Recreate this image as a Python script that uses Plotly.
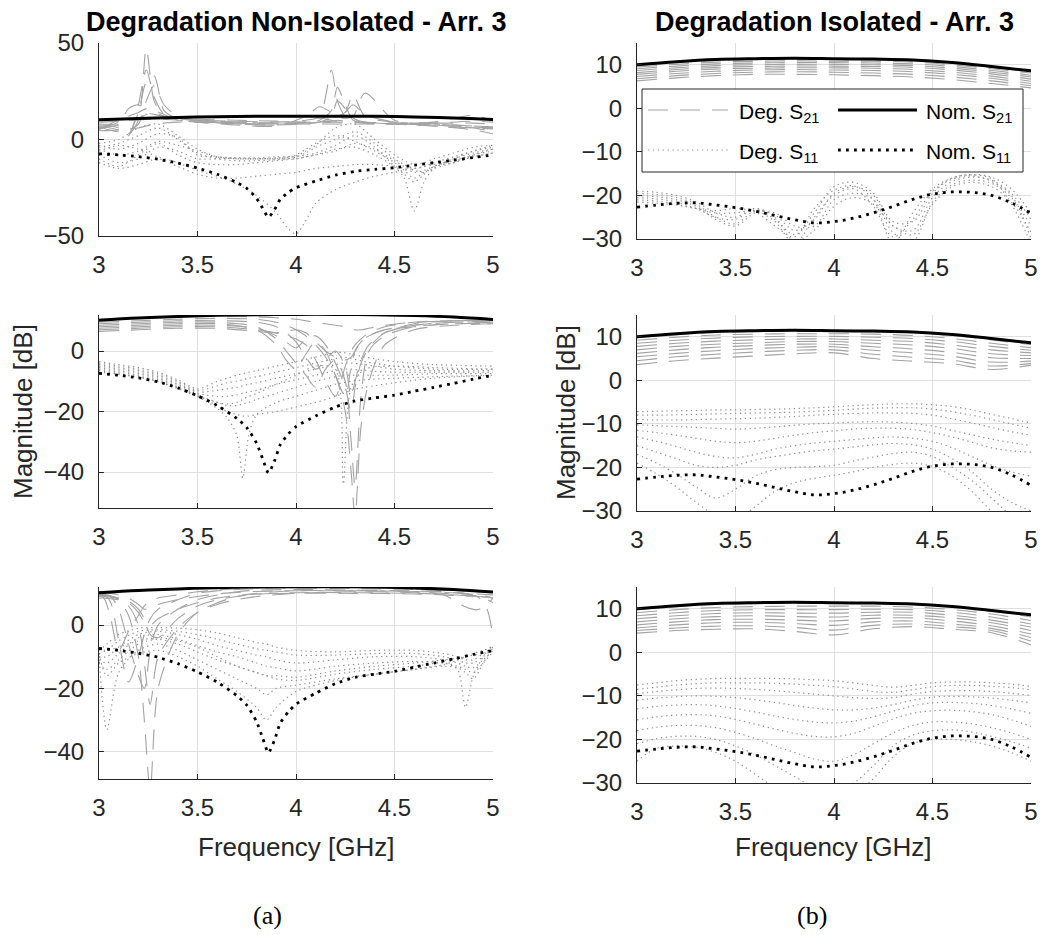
import plotly.graph_objects as go

# ---------------- frequency grids (GHz) ----------------
F_ISO_S21 = [3.0, 3.2, 3.4, 3.6, 3.8, 4.0, 4.2, 4.4, 4.6, 4.8, 5.0]
F_ISO_S11 = [3.0, 3.1, 3.2, 3.3, 3.4, 3.5, 3.6, 3.7, 3.8, 3.9, 4.0,
             4.1, 4.2, 4.3, 4.4, 4.5, 4.6, 4.7, 4.8, 4.9, 5.0]
F_NOM_NI_S21 = [3.0, 3.2, 3.4, 3.6, 3.8, 4.0, 4.2, 4.4, 4.6, 4.8, 5.0]
F_NOM_NI_S11 = [3.0, 3.1, 3.2, 3.3, 3.4, 3.5, 3.6, 3.7, 3.75, 3.8, 3.83, 3.86,
                3.89, 3.92, 3.96, 4.0, 4.1, 4.2, 4.3, 4.4, 4.5, 4.6, 4.7, 4.8, 4.9, 5.0]
F_NI1_S21 = [3.0, 3.1, 3.15, 3.2, 3.24, 3.28, 3.33, 3.4, 3.5, 3.7, 3.9, 4.05,
             4.12, 4.18, 4.21, 4.25, 4.29, 4.35, 4.5, 4.7, 4.9, 5.0]
F_NI1_S11 = [3.0, 3.1, 3.2, 3.3, 3.4, 3.5, 3.6, 3.7, 3.8, 3.9, 3.95, 4.0, 4.05,
             4.1, 4.2, 4.3, 4.4, 4.5, 4.55, 4.6, 4.65, 4.7, 4.8, 4.9, 5.0]
F_NI2_S21 = [3.0, 3.2, 3.4, 3.6, 3.8, 3.9, 3.95, 4.0, 4.05, 4.1, 4.15, 4.2,
             4.25, 4.28, 4.3, 4.33, 4.37, 4.45, 4.6, 4.8, 5.0]
F_NI2_S11 = [3.0, 3.1, 3.2, 3.3, 3.4, 3.5, 3.6, 3.65, 3.7, 3.73, 3.76, 3.8,
             3.9, 4.0, 4.1, 4.2, 4.24, 4.28, 4.35, 4.5, 4.7, 5.0]
F_NI3_S21 = [3.0, 3.03, 3.06, 3.1, 3.15, 3.2, 3.23, 3.26, 3.3, 3.4, 3.5, 3.6,
             3.7, 3.8, 4.0, 4.3, 4.6, 4.75, 4.85, 4.92, 4.97, 5.0]
F_NI3_S11 = [3.0, 3.04, 3.1, 3.2, 3.3, 3.4, 3.5, 3.6, 3.7, 3.8, 3.85, 3.9, 4.0,
             4.2, 4.4, 4.6, 4.75, 4.82, 4.86, 4.9, 4.95, 5.0]

# ---------------- nominal responses (dB) ----------------
NOM_ISO_S21 = [10.0, 10.7, 11.2, 11.4, 11.5, 11.4, 11.3, 11.1, 10.5, 9.6, 8.6]
NOM_ISO_S11 = [-22.7, -22.2, -21.8, -21.7, -22.2, -22.8, -23.6, -24.6, -25.6, -26.3, -26.0,
               -25.2, -24.0, -22.5, -20.9, -19.7, -19.2, -19.3, -20.0, -21.7, -24.1]
NOM_NI_S21 = [10.2, 10.9, 11.4, 11.8, 12.0, 12.1, 12.1, 12.0, 11.7, 11.2, 10.4]
NOM_NI_S11 = [-7.4, -8.0, -8.9, -10.2, -12.2, -14.8, -18.0, -22.3, -25.3, -30.5, -35.5, -40.3,
              -36.5, -31.0, -27.5, -25.0, -21.5, -18.5, -16.5, -15.5, -14.6, -13.3, -12.0,
              -10.7, -9.3, -8.0]

# ---------------- degraded responses, isolated array (dB) ----------------
ISO1_S21 = [
    [9.9, 10.5, 11.0, 11.2, 11.3, 11.2, 11.1, 10.9, 10.3, 9.4, 8.4],
    [9.5, 10.1, 10.6, 10.8, 10.9, 10.8, 10.8, 10.6, 10.0, 9.1, 8.1],
    [9.1, 9.7, 10.2, 10.4, 10.5, 10.5, 10.4, 10.2, 9.6, 8.7, 7.6],
    [8.7, 9.3, 9.8, 10.0, 10.1, 10.1, 10.0, 9.8, 9.2, 8.3, 7.2],
    [8.2, 8.9, 9.4, 9.6, 9.7, 9.7, 9.6, 9.4, 8.8, 7.9, 6.7],
    [7.8, 8.5, 9.0, 9.2, 9.3, 9.3, 9.2, 8.9, 8.3, 7.4, 6.2],
    [7.3, 8.0, 8.5, 8.8, 8.9, 8.8, 8.7, 8.4, 7.8, 6.9, 5.7],
    [6.8, 7.5, 8.0, 8.3, 8.4, 8.3, 8.1, 7.8, 7.2, 6.3, 5.2],
    [6.3, 7.0, 7.5, 7.8, 7.8, 7.7, 7.5, 7.2, 6.6, 5.7, 4.7],
]
ISO1_S11 = [
    [-19.0, -19.3, -20.0, -21.5, -24.0, -25.0, -23.0, -25.5, -29.0, -24.0, -18.0,
     -17.0, -19.5, -26.0, -26.0, -19.5, -16.0, -15.2, -15.8, -18.5, -24.0],
    [-19.5, -19.8, -20.5, -22.0, -25.0, -26.5, -23.5, -24.5, -28.0, -25.5, -19.5,
     -18.0, -20.0, -27.0, -28.0, -20.5, -16.8, -15.8, -16.5, -19.5, -25.5],
    [-20.0, -20.3, -21.0, -22.5, -25.5, -27.0, -24.0, -24.0, -27.0, -27.0, -21.0,
     -19.5, -21.0, -28.5, -30.5, -21.5, -17.5, -16.5, -17.2, -20.5, -27.0],
    [-20.5, -20.8, -21.5, -23.0, -25.0, -25.5, -23.0, -25.0, -30.5, -28.0, -22.5,
     -20.5, -22.0, -27.0, -29.0, -22.0, -18.0, -17.0, -18.0, -21.5, -28.5],
    [-21.0, -21.3, -22.0, -23.0, -24.0, -24.0, -23.5, -26.0, -31.0, -25.0, -20.0,
     -18.5, -22.5, -29.5, -25.5, -19.0, -16.3, -15.5, -16.8, -20.0, -30.0],
    [-21.5, -21.8, -22.2, -23.0, -23.5, -23.0, -23.8, -27.0, -29.5, -23.0, -18.8,
     -17.8, -21.0, -31.0, -24.0, -18.5, -16.0, -15.3, -16.2, -22.0, -31.0],
]
ISO2_S21 = [
    [9.8, 10.5, 11.0, 11.2, 11.2, 11.2, 11.1, 10.9, 10.3, 9.3, 8.2],
    [9.2, 9.9, 10.4, 10.6, 10.7, 10.7, 10.6, 10.3, 9.6, 8.5, 7.5],
    [8.5, 9.2, 9.7, 10.0, 10.1, 10.1, 9.9, 9.6, 8.9, 7.8, 6.9],
    [7.8, 8.5, 9.0, 9.3, 9.5, 9.5, 9.2, 8.9, 8.1, 7.0, 6.3],
    [7.0, 7.8, 8.3, 8.6, 8.9, 8.9, 8.5, 8.1, 7.3, 6.1, 5.7],
    [6.2, 7.0, 7.6, 8.0, 8.3, 8.3, 7.7, 7.2, 6.4, 5.2, 5.0],
    [5.4, 6.2, 6.8, 7.3, 7.6, 7.7, 6.9, 6.3, 5.5, 4.2, 4.4],
    [4.5, 5.4, 6.0, 6.5, 6.9, 7.0, 6.0, 5.3, 4.6, 3.3, 3.9],
    [3.6, 4.5, 5.1, 5.6, 6.1, 6.3, 5.0, 4.4, 3.8, 2.5, 3.5],
]
ISO2_S11 = [
    [-7.2, -7.1, -7.0, -6.9, -6.8, -6.8, -6.7, -6.6, -6.5, -6.3, -6.1,
     -5.8, -5.6, -5.4, -5.4, -5.6, -6.0, -6.8, -7.8, -8.8, -9.8],
    [-8.0, -8.0, -7.9, -7.8, -7.7, -7.6, -7.5, -7.4, -7.3, -7.1, -6.9,
     -6.6, -6.4, -6.3, -6.3, -6.6, -7.2, -8.0, -9.0, -10.0, -11.0],
    [-9.0, -9.1, -9.1, -9.0, -8.9, -8.8, -8.7, -8.5, -8.3, -8.0, -7.8,
     -7.6, -7.5, -7.5, -7.6, -8.0, -8.8, -9.8, -10.8, -11.8, -12.6],
    [-10.2, -10.4, -10.6, -10.8, -11.0, -11.2, -11.0, -10.7, -10.3, -10.0, -9.8,
     -9.6, -9.5, -9.6, -9.9, -10.5, -11.5, -12.5, -13.5, -14.3, -15.0],
    [-11.5, -12.0, -12.6, -13.3, -14.0, -14.3, -14.0, -13.3, -12.6, -12.0, -11.6,
     -11.2, -11.0, -11.0, -11.3, -12.0, -13.0, -14.2, -15.5, -16.2, -16.5],
    [-13.0, -14.0, -15.2, -16.5, -17.5, -17.8, -17.0, -15.8, -15.0, -14.4, -14.0,
     -13.6, -13.2, -13.0, -13.3, -14.0, -15.5, -17.5, -19.5, -21.0, -22.0],
    [-15.0, -16.5, -18.0, -19.5, -20.0, -19.5, -18.3, -17.5, -16.8, -16.2, -15.8,
     -15.3, -14.8, -14.5, -14.8, -15.8, -18.0, -21.0, -25.0, -28.0, -30.0],
    [-17.0, -19.0, -21.5, -24.5, -27.0, -25.0, -22.0, -20.5, -20.0, -19.8, -19.5,
     -18.5, -17.6, -16.8, -16.5, -17.5, -20.0, -23.0, -27.0, -31.0, -33.0],
    [-19.0, -21.5, -24.5, -28.0, -31.0, -32.0, -29.0, -25.5, -23.5, -22.5, -21.8,
     -21.0, -20.0, -19.3, -19.0, -19.8, -22.0, -25.5, -30.0, -33.0, -35.0],
]
ISO3_S21 = [
    [9.8, 10.5, 11.0, 11.2, 11.3, 11.3, 11.2, 11.0, 10.5, 9.5, 8.1],
    [9.1, 9.8, 10.3, 10.5, 10.6, 10.6, 10.6, 10.4, 9.8, 8.8, 7.3],
    [8.4, 9.1, 9.6, 9.8, 9.8, 9.8, 9.9, 9.8, 9.2, 8.1, 6.5],
    [7.7, 8.4, 8.9, 9.1, 9.0, 9.0, 9.2, 9.2, 8.5, 7.4, 5.8],
    [7.0, 7.7, 8.2, 8.4, 8.2, 8.1, 8.5, 8.5, 7.9, 6.8, 5.0],
    [6.3, 7.0, 7.5, 7.6, 7.4, 7.2, 7.8, 7.9, 7.2, 6.1, 4.2],
    [5.6, 6.3, 6.8, 6.9, 6.6, 6.2, 7.0, 7.2, 6.5, 5.5, 3.4],
    [5.0, 5.6, 6.0, 6.1, 5.7, 5.1, 6.2, 6.5, 5.9, 5.0, 2.6],
    [4.4, 5.0, 5.3, 5.4, 4.8, 4.0, 5.4, 5.9, 5.3, 4.5, 1.7],
]
ISO3_S11 = [
    [-7.5, -7.0, -6.5, -6.2, -6.0, -6.0, -6.0, -6.0, -6.1, -6.3, -6.5,
     -7.0, -7.6, -8.0, -7.6, -7.0, -6.8, -6.8, -7.0, -7.3, -7.8],
    [-8.5, -8.0, -7.5, -7.2, -7.0, -7.0, -7.0, -7.1, -7.3, -7.6, -7.9,
     -8.4, -9.0, -9.2, -8.6, -7.9, -7.6, -7.6, -7.8, -8.1, -8.6],
    [-9.5, -9.0, -8.6, -8.3, -8.2, -8.3, -8.5, -8.8, -9.2, -9.6, -10.0,
     -10.4, -10.6, -10.4, -9.6, -9.0, -8.8, -8.8, -9.0, -9.4, -9.9],
    [-11.0, -10.5, -10.2, -10.0, -10.1, -10.4, -10.9, -11.5, -12.2, -12.8, -13.2,
     -13.2, -12.8, -12.0, -11.0, -10.3, -10.1, -10.2, -10.5, -11.0, -11.6],
    [-13.0, -12.4, -12.1, -12.0, -12.3, -12.9, -13.7, -14.6, -15.4, -16.0, -16.2,
     -15.8, -14.8, -13.5, -12.3, -11.6, -11.5, -11.7, -12.2, -13.0, -14.0],
    [-15.5, -14.8, -14.4, -14.3, -14.6, -15.4, -16.5, -17.6, -18.6, -19.3, -19.4,
     -18.6, -17.0, -15.3, -14.0, -13.4, -13.3, -13.6, -14.3, -15.5, -17.0],
    [-18.0, -17.2, -16.8, -16.8, -17.3, -18.4, -19.8, -21.5, -23.0, -24.5, -25.0,
     -23.5, -21.0, -18.5, -16.8, -16.0, -16.0, -16.4, -17.3, -18.5, -20.0],
    [-21.0, -19.8, -19.3, -19.3, -20.0, -21.5, -23.5, -26.0, -28.5, -31.0, -32.0,
     -30.0, -26.0, -21.5, -19.0, -18.0, -17.8, -18.3, -19.3, -20.5, -22.0],
    [-25.0, -22.0, -21.5, -21.8, -23.0, -25.0, -28.0, -31.0, -33.0, -34.0, -36.0,
     -33.0, -29.0, -24.0, -21.0, -20.0, -20.0, -20.5, -21.5, -23.0, -25.0],
]

# ---------------- degraded responses, non-isolated array (dB) ----------------
NI1_S21 = [
    [8, 7, 3, 10, 47, 20, 12, 11, 10.5, 10, 9.5, 9, 9, 9.5, 10, 9.5, 9, 8.5, 8, 7, 6, 5.5],
    [7.5, 6, 2, 18, 36, 22, 13, 11, 10, 9.5, 9, 10, 12, 36, 20, 12, 10, 9, 8.5, 8, 7, 6.5],
    [7, 5, 3, 14, 30, 33, 15, 11, 10, 9, 8.5, 9, 10, 15, 27, 18, 10, 9, 8, 7.5, 6, 4],
    [6.5, 4, 5, 8, 20, 28, 18, 12, 10, 8.5, 8, 8.5, 9, 12, 20, 16, 11, 9, 8, 7, 5, 3],
    [6, 8, 16, 18, 14, 13, 12, 11, 9.5, 8, 7.5, 8, 9, 10, 12, 14, 23, 12, 9, 7.5, 6.5, 6],
    [5.5, 9, 12, 14, 16, 15, 13, 10, 9, 7.5, 7, 12, 17, 14, 12, 11, 12, 24, 10, 8, 7, 6.5],
    [5, 10, 10, 11, 13, 14, 12, 10.5, 9, 8, 7.5, 9, 11, 10, 9.5, 14, 18, 13, 9, 8.5, 8.5, 8],
    [9, 9.5, 10, 10, 10.5, 10.5, 10.5, 10, 9.5, 9, 8.5, 8.5, 8.5, 9, 9, 9, 9, 8.5, 8.5, 9, 12.5, 9.5],
    [4.5, 5, 5.5, 6, 7, 8, 8.5, 9, 9, 8.5, 8, 8, 8, 8, 8, 8, 8, 8, 8, 8.5, 9.5, 9],
]
NI1_S11 = [
    [-3, -5, -2, 3, 1, -8, -9, -9.5, -10, -10, -10, -9, -7, -4, 0, 4, -2, -10, -13, -15, -14, -12, -9, -6, -4],
    [-5, -8, -6, -1, -3, -6, -9, -10, -10, -9.5, -9, -8, -5, -2, 2, -1, -6, -12, -16, -20, -17, -14, -10, -7, -5],
    [-8, -12, -10, -4, -6, -10, -10, -9.5, -9.5, -9, -9, -9, -8, -7, -3, 2, -4, -14, -20, -37, -22, -15, -10, -6, -3],
    [-10, -14, -8, -2, -8, -12, -13, -13, -12, -11, -10.5, -10, -9, -8, -5, -4, -8, -14, -18, -22, -18, -14, -11, -8, -6],
    [-6, -3, -5, -9, -12, -16, -19, -23, -29, -38, -45, -49, -42, -33, -26, -22, -19, -17, -16, -15, -14, -13, -11, -9, -7],
    [-12, -15, -13, -10, -14, -18, -20, -20, -19, -18, -17.5, -17, -16, -15, -14, -13, -13, -14, -15, -17, -16, -14, -12, -9, -7],
    [-4, -2, 2, 6, 0, -7, -10, -11, -11, -10.5, -10, -10, -9, -8, -6, -2, -5, -11, -14, -16, -17, -15, -12, -8, -5],
    [-2, 0, 6, 8, 2, -5, -9, -10, -10, -10, -9.5, -8.5, -6, -3, 6, 8, 0, -8, -11, -13, -12, -10, -7, -4, -3],
]
NI2_S21 = [
    [10.5, 11, 11.3, 11.5, 11.3, 11, 10.8, 10.5, 10, 9.5, 9, 8.5, 8, 7.5, 7, 7, 7.5, 8.5, 9.5, 10, 10],
    [9.5, 10, 10.5, 10.8, 10.5, 9.5, 8.5, 7, 5, 2, -2, -8, -20, -40, -55, -25, -10, 2, 7, 8.5, 9],
    [9, 9.5, 10, 10, 9.5, 8, 6, 3, -2, -6, -3, 0, -5, -15, -10, -3, 2, 6, 8.5, 9.5, 9.5],
    [8.5, 9, 9.5, 9.5, 8, 4, 0, -4, -8, -12, -6, -3, -10, -30, -45, -15, 0, 5, 8, 9, 9],
    [8, 8.5, 9, 9, 7, 2, -3, -6, -1, 3, 0, -8, -15, -5, 0, 3, 5, 7, 8.5, 9.5, 9.5],
    [7.5, 8, 8.5, 8.5, 7.5, 5, 3, 1, 4, 5, 2, -4, -12, -20, -12, -4, 1, 6, 9, 10, 10],
    [7, 7.5, 8, 8, 7, 6, 5, 4, 2, -3, -10, -15, -5, 0, 2, 4, 6, 8, 9.5, 10, 9.5],
    [6.5, 7, 7.5, 7.5, 6.5, 6, 6.5, 7, 6, 3, 0, -2, -3, -2, 0, 3, 5, 7, 8, 9, 9],
]
NI2_S11 = [
    [-3.5, -4.5, -5.5, -7, -9.5, -12.5, -10, -9, -8, -7.5, -7, -6.5, -5, -3.5, -2, -0.5, -0.5, -1, -2, -3.5, -4.5, -5],
    [-4, -5, -6, -7.5, -10, -13, -11.5, -10.5, -10, -9.5, -9, -8.5, -7, -5.5, -4, -2.5, -2, -2.5, -3.5, -5, -6, -6],
    [-4.5, -5.5, -6.5, -8, -10.5, -13.5, -13, -12.5, -12, -11.5, -11, -10.5, -9, -7.5, -6, -4.5, -4, -4, -4.5, -6, -6.5, -6.5],
    [-5, -6, -7, -8.5, -11, -14, -15, -15, -14.5, -14, -13.5, -13, -11, -9.5, -8, -6.5, -6, -6, -6.5, -7, -7, -7],
    [-5.5, -6.5, -7.5, -9, -11.5, -14.5, -17, -18, -18, -17.5, -17, -16, -14, -12, -10, -8.5, -8, -8, -8, -8, -7.5, -7.5],
    [-6, -7, -8, -9.5, -12, -15, -19, -22, -28, -42, -28, -21, -17, -15, -13, -11, -10.5, -10, -9.5, -9, -8.5, -8],
    [-6.5, -7.5, -8.5, -10, -12.5, -15, -18, -20, -21, -21.5, -21.5, -21, -20, -18.5, -17, -15, -14, -13, -12, -10.5, -9, -8],
    [-7, -7.7, -8.7, -10.1, -12.2, -14.8, -17, -17.5, -17, -16, -15, -14, -11, -8, -5, -6, -44, -12, -6, -5, -5.5, -6],
]
NI3_S21 = [
    [10.2, 8, 2, -8, -2, 3, 6, 7.5, 8.5, 9.5, 10.5, 11, 11.5, 11.7, 11.8, 11.8, 11.5, 11.2, 10.8, 10.5, 10.3, 10.2],
    [10, 9.5, 7, -5, -18, -10, -3, 2, 5, 8, 10, 10.8, 11.2, 11.5, 11.6, 11.5, 11.2, 10.8, 10, 9, 8, 7],
    [9.8, 9.7, 9, 5, -6, -16, -20, -8, 0, 5, 8, 9.5, 10.5, 11, 11.2, 11, 10.8, 10.5, 10, 9.5, 9, 8.5],
    [9.5, 9.4, 9.2, 8, 3, -10, -30, -52, -20, -3, 4, 7, 9, 10, 10.8, 10.8, 10.5, 10, 9.5, 9, 5, -4],
    [9.3, 9.2, 9, 8.5, 6, 0, -12, -25, -10, -1, 4, 6.5, 8, 9, 10, 10.5, 10.2, 9.5, 6, 4.8, 6.5, 8.5],
    [9, 9, 8.8, 8.5, 7.5, 5, 2, -3, -4, 2, 6, 8, 9, 9.7, 10.2, 10.2, 10, 9.7, 9.3, 9, 8.8, 8.5],
    [8.5, 8.5, 8.3, 8, 7, 4, 1, 0, 2, 5, 7, 8.5, 9.3, 9.8, 10, 10, 9.8, 9.5, 9.2, 9, 8.8, 8.8],
    [10.5, 10.3, 10, 9.5, 8.5, 6.5, 5, 5.5, 6.5, 8, 9, 9.8, 10.3, 10.6, 10.8, 10.8, 10.6, 10.3, 10, 9.8, 9.6, 9.5],
]
NI3_S11 = [
    [-8, -6, -3, -1, -0.8, -1, -1.5, -2.5, -4, -5.5, -6, -7, -8, -8.5, -8, -8, -9, -10, -11, -11, -9, -7],
    [-9, -8, -5, -2, -1.5, -2, -3, -4.5, -6, -7.5, -8, -8.5, -9.5, -9.5, -9, -9, -10, -11, -12, -12, -10, -7.5],
    [-10, -10, -7, -3, -2, -3, -4.5, -6.5, -8, -9.5, -10, -11, -12, -11, -10, -10, -11, -12, -13, -13.5, -11, -8],
    [-11, -12, -9, -4, -3, -4.5, -6.5, -8.5, -10, -12, -13, -13.5, -14.5, -13, -12, -11.5, -12, -13, -14, -15, -12, -8.5],
    [-12, -14, -11, -6, -4.5, -6, -8.5, -11, -13, -15, -16, -17, -17.5, -15.5, -14, -13, -12, -14, -26, -16, -10, -6],
    [-10, -33, -15, -8, -6, -8, -11, -14, -17, -20, -22, -20, -19, -17, -15.5, -14, -13, -13.5, -15, -17, -12, -7],
    [-9, -16, -12, -9, -8, -10, -13, -17, -21, -26, -30, -26, -21, -17.5, -15.5, -14, -12.5, -11, -10, -9, -8, -7],
    [-7.5, -8, -7, -5, -4, -5, -7, -10, -13, -15, -16, -16, -16.5, -14.5, -13, -12, -11, -10.5, -10, -9.5, -9, -8.5],
]

# ---------------- axis ticks ----------------
X_TICKS = [3, 3.5, 4, 4.5, 5]
X_TICK_TEXT = ["3", "3.5", "4", "4.5", "5"]
Y_TICKS_NI1 = [-50, 0, 50]
Y_TICKS_NI = [-40, -20, 0]
Y_TICKS_ISO = [-30, -20, -10, 0, 10]

TITLES = ["Degradation Non-Isolated - Arr. 3", "Degradation Isolated - Arr. 3"]
Y_LABEL = "Magnitude [dB]"
X_LABEL = "Frequency [GHz]"
SUB_LABELS = ["(a)", "(b)"]
LEGEND_TEXT = ["Deg. S<sub>21</sub>", "Nom. S<sub>21</sub>", "Deg. S<sub>11</sub>", "Nom. S<sub>11</sub>"]

# ---------------- styling ----------------
W, H = 1041, 935
FONT = "Liberation Sans, Arial, Helvetica, sans-serif"
AX_COLOR = "#262626"
GRID_COLOR = "#e0e0e0"
GREY = "#a3a3a3"
GREY_DOT = "#8f8f8f"
DASH_GREY = "20px,12px"
DOT_GREY = "1.3px,3.6px"
DOT_BLACK = "2.8px,5.2px"


def px_x(v):
    return v / W


def px_y(v):
    return 1 - v / H


# panel layout: (x-domain px, y-domain px, y range, y ticks)
PANELS = [
    ((99, 493), (43, 236), [-50, 50], Y_TICKS_NI1),
    ((637, 1031), (43, 239), [-30, 15], Y_TICKS_ISO),
    ((99, 493), (315, 508), [-51.9, 11.9], Y_TICKS_NI),
    ((637, 1031), (315, 511), [-30, 15], Y_TICKS_ISO),
    ((99, 493), (587, 779), [-48.6, 12], Y_TICKS_NI),
    ((637, 1031), (587, 783), [-30, 15], Y_TICKS_ISO),
]

fig = go.Figure()


def axis_names(i):
    s = "" if i == 1 else str(i)
    return "x" + s, "y" + s, "xaxis" + s, "yaxis" + s


def add_lines(i, freqs, curves, color, width, dash, smoothing=1.0):
    xa, ya, _, _ = axis_names(i)
    for ys in curves:
        fig.add_trace(go.Scatter(
            x=freqs, y=ys, mode="lines", xaxis=xa, yaxis=ya,
            line=dict(color=color, width=width, dash=dash, shape="spline", smoothing=smoothing),
            showlegend=False, hoverinfo="skip"))


# non-isolated column
for i, f21, s21, f11, s11 in [
    (1, F_NI1_S21, NI1_S21, F_NI1_S11, NI1_S11),
    (3, F_NI2_S21, NI2_S21, F_NI2_S11, NI2_S11),
    (5, F_NI3_S21, NI3_S21, F_NI3_S11, NI3_S11),
]:
    add_lines(i, f11, s11, GREY_DOT, 1.2, DOT_GREY, 0.8)
    add_lines(i, f21, s21, GREY, 1.1, DASH_GREY, 0.8)
    add_lines(i, F_NOM_NI_S21, [NOM_NI_S21], "black", 3, "solid")
    add_lines(i, F_NOM_NI_S11, [NOM_NI_S11], "black", 2.8, DOT_BLACK, 0.6)

# isolated column
for i, s21, s11 in [(2, ISO1_S21, ISO1_S11), (4, ISO2_S21, ISO2_S11), (6, ISO3_S21, ISO3_S11)]:
    add_lines(i, F_ISO_S11, s11, GREY_DOT, 1.2, DOT_GREY)
    add_lines(i, F_ISO_S21, s21, GREY, 1.1, DASH_GREY)
    add_lines(i, F_ISO_S21, [NOM_ISO_S21], "black", 3, "solid")
    add_lines(i, F_ISO_S11, [NOM_ISO_S11], "black", 2.8, DOT_BLACK)

layout = dict(
    width=W, height=H, margin=dict(l=0, r=0, t=0, b=0, autoexpand=False),
    paper_bgcolor="white", plot_bgcolor="white",
    font=dict(family=FONT, color=AX_COLOR, size=24),
    showlegend=False,
)
for i, (xd, yd, yr, yt) in enumerate(PANELS, start=1):
    xa, ya, xk, yk = axis_names(i)
    layout[xk] = dict(
        domain=[px_x(xd[0]), px_x(xd[1])], range=[3, 5], anchor=ya, automargin=False,
        tickvals=X_TICKS, ticktext=X_TICK_TEXT, showgrid=True, gridcolor=GRID_COLOR,
        gridwidth=1, zeroline=False, showline=True, linecolor=AX_COLOR, linewidth=1.2,
        ticks="inside", ticklen=5, tickcolor=AX_COLOR, tickfont=dict(size=24, color=AX_COLOR),
        ticklabelstandoff=7,
    )
    layout[yk] = dict(
        domain=[px_y(yd[1]), px_y(yd[0])], range=yr, anchor=xa, automargin=False,
        tickvals=yt, showgrid=True, gridcolor=GRID_COLOR, gridwidth=1,
        zeroline=False, showline=True, linecolor=AX_COLOR, linewidth=1.2,
        ticks="inside", ticklen=5, tickcolor=AX_COLOR, tickfont=dict(size=24, color=AX_COLOR),
        ticklabelstandoff=9,
    )
fig.update_layout(**layout)

ann = []


def centered(cx, cy, text, size, color=AX_COLOR, family=FONT, angle=0):
    return dict(x=px_x(cx), y=px_y(cy), xref="paper", yref="paper", text=text,
                xanchor="center", yanchor="middle", textangle=angle, showarrow=False,
                font=dict(size=size, color=color, family=family))


# column titles
ann.append(centered(296, 22, "<b>" + TITLES[0] + "</b>", 27, "black"))
ann.append(centered(834, 22, "<b>" + TITLES[1] + "</b>", 27, "black"))
# axis labels
ann.append(centered(23, 412, Y_LABEL, 26, angle=-90))
ann.append(centered(566, 413, Y_LABEL, 26, angle=-90))
ann.append(centered(296, 847, X_LABEL, 26))
ann.append(centered(833, 847, X_LABEL, 26))
# sub-figure labels
ann.append(centered(267, 915, SUB_LABELS[0], 26, "black", "Liberation Serif, DejaVu Serif, serif"))
ann.append(centered(812, 915, SUB_LABELS[1], 26, "black", "Liberation Serif, DejaVu Serif, serif"))

# legend box inside the top-right panel
shapes = [dict(type="rect", xref="paper", yref="paper", layer="above",
               x0=px_x(642), x1=px_x(1023), y0=px_y(172), y1=px_y(89),
               fillcolor="white", line=dict(color=AX_COLOR, width=1))]
legend_items = [
    (648, 728, 110, GREY, 1.1, DASH_GREY, LEGEND_TEXT[0], 737),
    (838, 917, 110, "black", 3, "solid", LEGEND_TEXT[1], 924),
    (648, 728, 150, GREY_DOT, 1.2, DOT_GREY, LEGEND_TEXT[2], 737),
    (838, 917, 150, "black", 2.8, DOT_BLACK, LEGEND_TEXT[3], 924),
]
for x0, x1, yy, col, wd, ds, txt, tx in legend_items:
    shapes.append(dict(type="line", xref="paper", yref="paper", layer="above",
                       x0=px_x(x0), x1=px_x(x1), y0=px_y(yy), y1=px_y(yy),
                       line=dict(color=col, width=wd, dash=ds)))
    ann.append(dict(x=px_x(tx), y=px_y(yy + 3), xref="paper", yref="paper", text=txt,
                    xanchor="left", yanchor="middle", showarrow=False,
                    font=dict(size=21, color="black")))

fig.update_layout(annotations=ann, shapes=shapes)
fig.write_html("out.html")
